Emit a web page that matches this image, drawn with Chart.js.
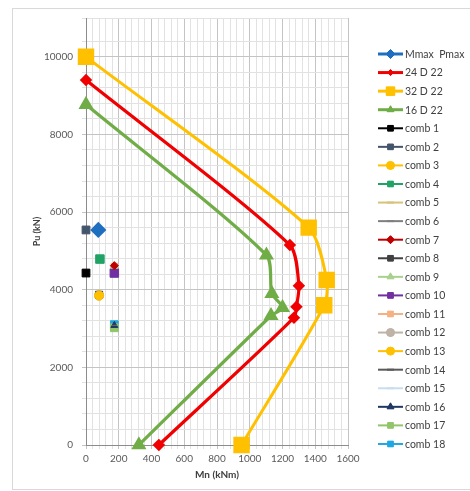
<!DOCTYPE html>
<html><head><meta charset="utf-8">
<script src="https://cdn.jsdelivr.net/npm/chart.js@4/dist/chart.umd.min.js"></script>
<style>html,body{margin:0;padding:0;background:#fff;}#wrap{width:470px;height:491px;position:relative;}</style>
</head><body><div id="wrap"><canvas id="c" width="470" height="491"></canvas></div>
<script>
// ---- data ----
const mmaxLabel = 'Mmax  Pmax';
const mmaxM = [75];
const mmaxP = [5540];
const d24Label = '24 D 22';
const d24M = [0, 1245, 1300, 1285, 1270, 445];
const d24P = [9400, 5150, 4100, 3560, 3280, 0];
const d32Label = '32 D 22';
const d32M = [0, 1360, 1470, 1455, 950];
const d32P = [10000, 5600, 4250, 3600, 0];
const d16Label = '16 D 22';
const d16M = [0, 1102, 1135, 1200, 1130, 323];
const d16P = [8770, 4890, 3900, 3540, 3330, 0];
const combLabels = ['comb 1','comb 2','comb 3','comb 4','comb 5','comb 6','comb 7','comb 8','comb 9',
  'comb 10','comb 11','comb 12','comb 13','comb 14','comb 15','comb 16','comb 17','comb 18'];
const combM = [0, 0, 80, 85, 85, 80, 173, 80, 173, 173, 173, 80, 80, 173, 173, 173, 173, 173];
const combP = [4430, 5540, 3850, 4790, 4790, 3850, 4620, 3870, 4610, 4430, 4600, 3850, 3850, 3080, 3080, 3080, 3020, 3100];
const xTickLabels = [0, 200, 400, 600, 800, 1000, 1200, 1400, 1600];
const yTickLabels = [0, 2000, 4000, 6000, 8000, 10000];

// ---- styles ----
const combStyles = [
  {c:'#000000', s:'rect', r:5.5},
  {c:'#44546A', s:'rect', r:5.5},
  {c:'#FFC000', s:'circle', r:4.5},
  {c:'#21A366', s:'rect', r:6},
  {c:'#D6C27A', s:'line', r:3},
  {c:'#7F7F7F', s:'line', r:3},
  {c:'#C00000', s:'rectRot', r:4},
  {c:'#404040', s:'rect', r:5},
  {c:'#A9D18E', s:'triangle', r:4.5},
  {c:'#7030A0', s:'rect', r:6},
  {c:'#F4B183', s:'rect', r:4.5},
  {c:'#BFB2A6', s:'circle', r:4.5},
  {c:'#FFC000', s:'circle', r:4.5},
  {c:'#595959', s:'line', r:2.5},
  {c:'#C9DDF0', s:'line', r:2.5},
  {c:'#1F3864', s:'triangle', r:4},
  {c:'#92C46A', s:'rect', r:5.5},
  {c:'#1FA8E0', s:'rect', r:5.5}
];
function pts(xs, ys){ return xs.map((x,i)=>({x:x, y:ys[i]})); }

const datasets = [
  {label: mmaxLabel, data: pts(mmaxM, mmaxP), borderColor:'#1F6FC0', backgroundColor:'#1F6FC0',
   pointStyle:'rectRot', pointRadius:6, borderWidth:3, showLine:false, clip:false, legendLine:3, legendR:4.5},
  {label: d24Label, data: pts(d24M, d24P), borderColor:'#F00000', backgroundColor:'#F00000',
   pointStyle:'rectRot', pointRadius:4, borderWidth:3.2, showLine:true, tension:0.25, clip:false, legendLine:3, legendR:3},
  {label: d32Label, data: pts(d32M, d32P), borderColor:'#FFC000', backgroundColor:'#FFC000',
   pointStyle:'rect', pointRadius:9.5, borderWidth:3, showLine:true, tension:0.25, clip:false, legendLine:3, legendR:6},
  {label: d16Label, data: pts(d16M, d16P), borderColor:'#70AD47', backgroundColor:'#70AD47',
   pointStyle:'triangle', pointRadius:5.5, borderWidth:3.2, showLine:true, tension:0.25, clip:false, legendLine:3, legendR:4}
];
combLabels.forEach((lab,i)=>{
  const st = combStyles[i];
  datasets.push({label: lab, data: [{x: combM[i], y: combP[i]}], borderColor: st.c, backgroundColor: st.c,
    pointStyle: st.s, pointRadius: st.r, borderWidth: 1, showLine:false, clip:false, legendLine:2, legendR: Math.min(st.r, 4)});
});

const legendPlugin = {
  id: 'excelLegend',
  afterDraw(chart){
    const ctx = chart.ctx;
    ctx.save();
    chart.data.datasets.forEach((ds, i)=>{
      const y = 54 + i * 18.57;
      ctx.strokeStyle = ds.borderColor;
      ctx.lineWidth = ds.legendLine;
      ctx.beginPath(); ctx.moveTo(378, y); ctx.lineTo(403, y); ctx.stroke();
      if (ds.pointStyle !== 'line') {
        ctx.fillStyle = ds.backgroundColor; ctx.strokeStyle = ds.borderColor; ctx.lineWidth = 1;
        Chart.helpers.drawPoint(ctx, {pointStyle: ds.pointStyle, radius: ds.legendR, borderWidth: 1, rotation: 0}, 390.5, y);
        ctx.fill();
      } else {
        ctx.lineWidth = 2;
        ctx.beginPath(); ctx.moveTo(387, y); ctx.lineTo(394, y); ctx.stroke();
      }
      ctx.fillStyle = '#404040';
      ctx.font = '10.5px Lato, "Liberation Sans", sans-serif';
      ctx.textBaseline = 'middle'; ctx.textAlign = 'left';
      ctx.fillText(ds.label, 405, y + 0.5);
    });
    ctx.restore();
  }
};
const framePlugin = {
  id: 'frame',
  beforeDraw(chart){
    const ctx = chart.ctx;
    ctx.save();
    ctx.fillStyle = '#ffffff'; ctx.fillRect(0,0,chart.width,chart.height);
    ctx.strokeStyle = '#d9d9d9'; ctx.lineWidth = 1;
    ctx.strokeRect(12.5, 8.5, 470, 481);
    ctx.restore();
  }
};

const tickFont = {family: 'Lato, "Liberation Sans", sans-serif', size: 10};
new Chart(document.getElementById('c'), {
  type: 'scatter',
  data: {datasets: datasets},
  options: {
    responsive: false, animation: false,
    layout: {padding: {left: 28, right: 122, top: 18, bottom: 6}},
    plugins: {legend: {display: false}, tooltip: {enabled: false}},
    elements: {point: {borderWidth: 1}},
    scales: {
      x: {
        type: 'linear', min: 0, max: 1600,
        afterFit: s => { s.height = 40; },
        border: {color: '#8c8c8c', width: 1},
        grid: {
          color: ctx => (xTickLabels.includes(ctx.tick.value) ? '#c4c4c4' : '#e2e2e2'),
          tickLength: 4, lineWidth: 1
        },
        ticks: {stepSize: 40, autoSkip: false, maxRotation: 0, padding: 4, color: '#595959', font: tickFont,
          callback: v => (xTickLabels.includes(v) ? String(v) : '')},
        title: {display: true, text: 'Mn (kNm)', color: '#404040', padding: {top: 2, bottom: 4},
          font: {family: 'Lato, "Liberation Sans", sans-serif', size: 10, weight: 'bold'}}
      },
      y: {
        type: 'linear', min: 0, max: 11000,
        afterFit: s => { s.width = 58; },
        border: {color: '#8c8c8c', width: 1},
        grid: {
          color: ctx => (yTickLabels.includes(ctx.tick.value) ? '#c4c4c4' : '#e2e2e2'),
          tickLength: 4, lineWidth: 1
        },
        ticks: {stepSize: 400, autoSkip: false, padding: 9, color: '#595959', font: tickFont,
          callback: v => (yTickLabels.includes(v) ? String(v) : '')},
        title: {display: true, text: 'Pu (kN)', color: '#404040', padding: {top: 4, bottom: 4},
          font: {family: 'Lato, "Liberation Sans", sans-serif', size: 9, weight: 'bold'}}
      }
    }
  },
  plugins: [framePlugin, legendPlugin]
});
</script>
</body></html>
